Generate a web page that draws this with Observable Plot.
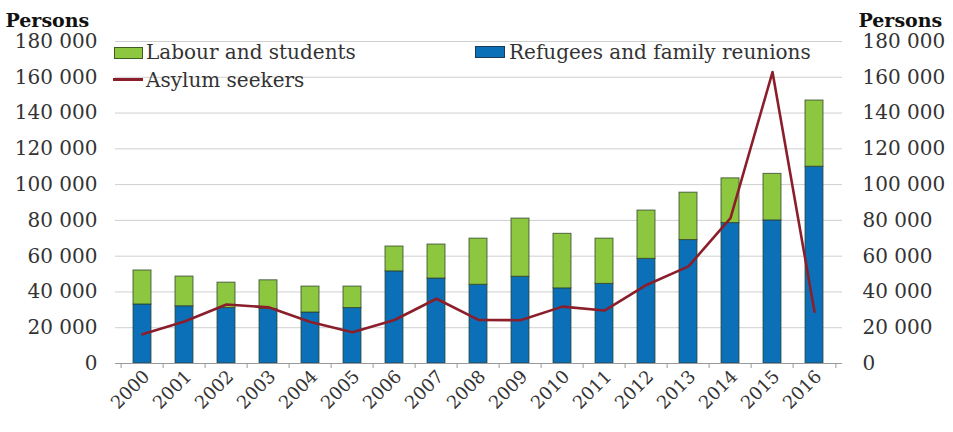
<!DOCTYPE html>
<html><head><meta charset="utf-8">
<script src="https://cdn.jsdelivr.net/npm/d3@7"></script>
<script src="https://cdn.jsdelivr.net/npm/@observablehq/plot@0.6"></script>
<style>
body{margin:0;background:#fff;}
#wrap{position:relative;width:953px;height:432px;font-family:"DejaVu Serif",serif;color:#333;}
.t{position:absolute;font-size:20px;line-height:22px;white-space:nowrap;}
.sw{position:absolute;box-sizing:border-box;}
</style></head><body><div id="wrap"></div>
<script>
const years = ["2000","2001","2002","2003","2004","2005","2006","2007","2008","2009","2010","2011","2012","2013","2014","2015","2016"];
const refugees = [33000, 32000, 31000, 30500, 28500, 31000, 51500, 47500, 44000, 48500, 42000, 44500, 58500, 69000, 78500, 80000, 110000];
const labour   = [19000, 16600, 14200, 16000, 14500, 12000, 13900, 19000, 25800, 32500, 30500, 25300, 27000, 26500, 25000, 26000, 37000];
const asylum   = [16300, 23500, 33000, 31400, 23200, 17500, 24300, 36200, 24400, 24200, 31800, 29600, 43900, 54300, 81300, 162900, 28900];
const yTicks = [0, 20000, 40000, 60000, 80000, 100000, 120000, 140000, 160000, 180000];
const seriesNames = ["Refugees and family reunions", "Labour and students"];
const seriesColors = ["#0B70B8", "#8DC63F"];
const lineColor = "#8B1E2B";

const rows = years.flatMap((y, i) => [
  {year: y, type: seriesNames[0], value: refugees[i]},
  {year: y, type: seriesNames[1], value: labour[i]}
]);
const lineRows = years.map((y, i) => ({year: y, value: asylum[i]}));

const W = 953, H = 432, mL = 115, mR = 111, mT = 41, mB = 69;
const step = (W - mL - mR) / years.length;
const fmt = d => d3.format(",")(d).replace(/,/g, " ");

const chart = Plot.plot({
  width: W, height: H,
  marginLeft: mL, marginRight: mR, marginTop: mT, marginBottom: mB,
  style: {fontFamily: "DejaVu Serif", fontSize: "20px", color: "#333", background: "white", overflow: "visible"},
  x: {domain: years, paddingInner: 0.56, paddingOuter: 0.28, axis: null},
  y: {domain: [0, 180000], axis: null},
  color: {domain: seriesNames, range: seriesColors},
  marks: [
    Plot.gridY(yTicks, {stroke: "#cfcfcf", strokeOpacity: 1}),
    Plot.barY(rows, {x: "year", y: "value", fill: "type", stroke: "#2b3d2a", strokeOpacity: 0.75, strokeWidth: 1}),
    Plot.line(lineRows, {x: "year", y: "value", stroke: lineColor, strokeWidth: 2.6, curve: "linear", strokeLinejoin: "round"}),
    Plot.ruleY([0], {stroke: "#9a9a9a"}),
    Plot.axisY(yTicks, {anchor: "left", tickSize: 0, tickPadding: 18, tickFormat: fmt, label: null, fontSize: 20}),
    Plot.axisY(yTicks, {anchor: "right", tickSize: 0, tickPadding: 20, tickFormat: fmt, label: null, fontSize: 20}),
    Plot.axisX({tickSize: 0, tickRotate: -45, tickPadding: 10, dx: 4, label: null, fontSize: 18}),
    Plot.axisX({tickSize: 5, tickFormat: () => "", dx: -step / 2, stroke: "#9a9a9a", label: null}),
    Plot.axisX(["2016"], {tickSize: 5, tickFormat: () => "", dx: step / 2, stroke: "#9a9a9a", label: null}),
    Plot.text(["Persons"], {frameAnchor: "top-left", dx: -110, dy: -28, textAnchor: "start", fontWeight: "bold", fill: "#111", fontSize: 19}),
    Plot.text(["Persons"], {frameAnchor: "top-right", dx: 16, dy: -28, textAnchor: "start", fontWeight: "bold", fill: "#111", fontSize: 19})
  ]
});
const wrap = document.getElementById("wrap");
wrap.appendChild(chart);

// legend (HTML overlay)
function add(html){ wrap.insertAdjacentHTML("beforeend", html); }
add(`<div class="sw" style="left:114px;top:47px;width:29px;height:12px;background:${seriesColors[1]};border:1px solid #3f5f20"></div>`);
add(`<div class="t" style="left:146px;top:41px">${seriesNames[1]}</div>`);
add(`<div class="sw" style="left:113px;top:78px;width:30px;height:3px;background:${lineColor}"></div>`);
add(`<div class="t" style="left:146px;top:69px">Asylum seekers</div>`);
add(`<div class="sw" style="left:475px;top:46px;width:30px;height:12px;background:${seriesColors[0]};border:1px solid #1d3a55"></div>`);
add(`<div class="t" style="left:509px;top:41px">${seriesNames[0]}</div>`);
</script>
</body></html>
